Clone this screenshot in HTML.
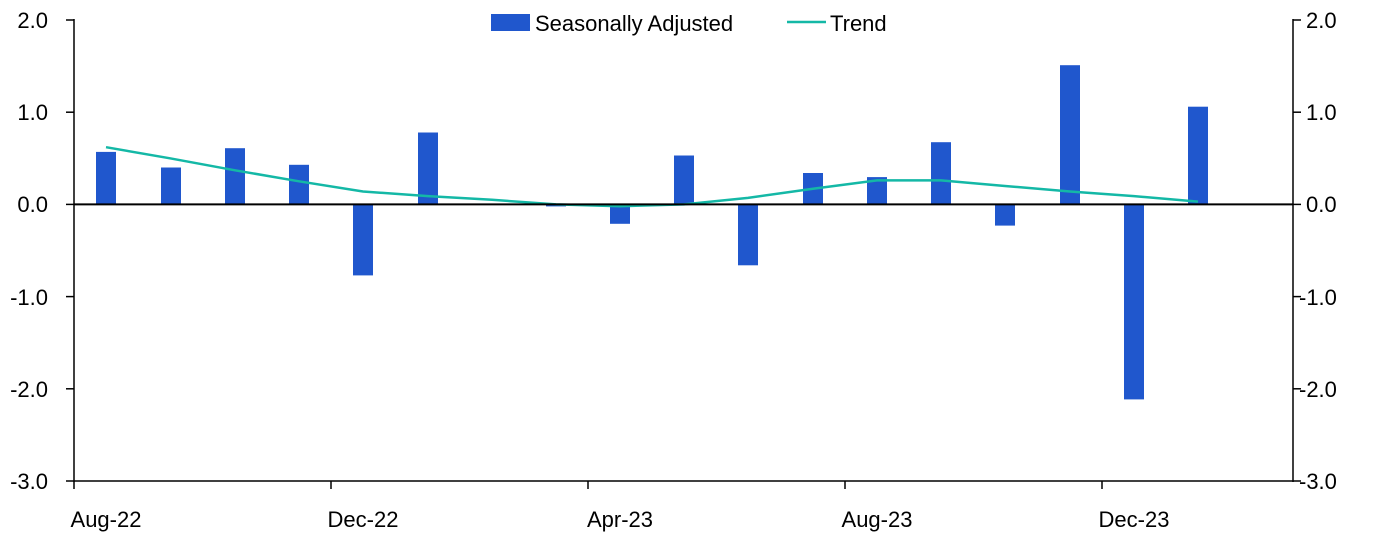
<!DOCTYPE html>
<html><head><meta charset="utf-8"><style>
html,body{margin:0;padding:0;background:#fff;}
svg{display:block;font-family:"Liberation Sans",sans-serif;}
</style></head><body>
<svg width="1375" height="551" viewBox="0 0 1375 551" xmlns="http://www.w3.org/2000/svg">
<g fill="#2057cd">
<rect x="96" y="151.9" width="20" height="52.5"/>
<rect x="161" y="167.5" width="20" height="36.9"/>
<rect x="225" y="148.2" width="20" height="56.2"/>
<rect x="289" y="164.8" width="20" height="39.6"/>
<rect x="353" y="204.4" width="20" height="71"/>
<rect x="418" y="132.5" width="20" height="71.9"/>
<rect x="546" y="204.4" width="20" height="2"/>
<rect x="610" y="204.4" width="20" height="19.4"/>
<rect x="674" y="155.5" width="20" height="48.9"/>
<rect x="738" y="204.4" width="20" height="60.9"/>
<rect x="803" y="173.0" width="20" height="31.4"/>
<rect x="867" y="177.1" width="20" height="27.3"/>
<rect x="931" y="142.2" width="20" height="62.2"/>
<rect x="995" y="204.4" width="20" height="21.2"/>
<rect x="1060" y="65.2" width="20" height="139.2"/>
<rect x="1124" y="204.4" width="20" height="195"/>
<rect x="1188" y="106.7" width="20" height="97.7"/>
</g>
<polyline fill="none" stroke="#14b8a6" stroke-width="2.5" points="106,147.2 170,158.3 235,170.3 299,181.3 363,191.5 428,196.1 492,199.8 556,204.4 620,206.2 684,204.4 748,197.9 813,188.7 877,180.4 941,180.4 1005,186 1070,191.5 1134,196.1 1198,201.6"/>
<g stroke="#000" stroke-width="1.5" fill="none">
<line x1="74" y1="19" x2="74" y2="482"/>
<line x1="1293" y1="19" x2="1293" y2="482"/>
<line x1="74" y1="481" x2="1293" y2="481"/>
<line x1="74" y1="204.4" x2="1293" y2="204.4" stroke-width="2"/>
<line x1="66" y1="20" x2="74" y2="20"/><line x1="66" y1="112.2" x2="74" y2="112.2"/><line x1="66" y1="204.4" x2="74" y2="204.4"/><line x1="66" y1="296.6" x2="74" y2="296.6"/><line x1="66" y1="388.8" x2="74" y2="388.8"/><line x1="66" y1="481" x2="74" y2="481"/>
<line x1="1293" y1="20" x2="1301" y2="20"/><line x1="1293" y1="112.2" x2="1301" y2="112.2"/><line x1="1293" y1="204.4" x2="1301" y2="204.4"/><line x1="1293" y1="296.6" x2="1301" y2="296.6"/><line x1="1293" y1="388.8" x2="1301" y2="388.8"/><line x1="1293" y1="481" x2="1301" y2="481"/>
<line x1="74" y1="481" x2="74" y2="489"/><line x1="331" y1="481" x2="331" y2="489"/><line x1="588" y1="481" x2="588" y2="489"/><line x1="845" y1="481" x2="845" y2="489"/><line x1="1102" y1="481" x2="1102" y2="489"/>
</g>
<g font-size="22" fill="#000" text-anchor="end">
<text x="48" y="28">2.0</text><text x="48" y="120">1.0</text><text x="48" y="212">0.0</text><text x="48" y="305">-1.0</text><text x="48" y="397">-2.0</text><text x="48" y="489">-3.0</text>
</g>
<g font-size="22" fill="#000" text-anchor="start">
<text x="1306" y="28">2.0</text><text x="1306" y="120">1.0</text><text x="1306" y="212">0.0</text><text x="1299" y="305">-1.0</text><text x="1299" y="397">-2.0</text><text x="1299" y="489">-3.0</text>
</g>
<g font-size="22" fill="#000" text-anchor="middle">
<text x="106" y="527">Aug-22</text><text x="363" y="527">Dec-22</text><text x="620" y="527">Apr-23</text><text x="877" y="527">Aug-23</text><text x="1134" y="527">Dec-23</text>
</g>
<rect x="491" y="14" width="39" height="17" fill="#2057cd"/>
<text x="535" y="31" font-size="22">Seasonally Adjusted</text>
<line x1="787" y1="22" x2="826" y2="22" stroke="#14b8a6" stroke-width="2.5"/>
<text x="830" y="31" font-size="22">Trend</text>
</svg>
</body></html>
